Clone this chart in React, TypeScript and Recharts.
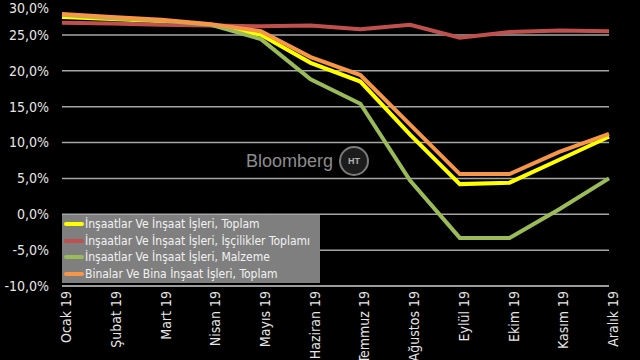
import { CartesianGrid, Line, LineChart, XAxis, YAxis } from 'recharts'

const months = [
  'Ocak 19', 'Şubat 19', 'Mart 19', 'Nisan 19', 'Mayıs 19', 'Haziran 19',
  'Temmuz 19', 'Ağustos 19', 'Eylül 19', 'Ekim 19', 'Kasım 19', 'Aralık 19',
]
const toplam = [27.5, 27.2, 26.9, 26.4, 25.0, 21.1, 18.5, 11.1, 4.2, 4.4, 7.6, 10.8]
const iscilik = [26.7, 26.6, 26.4, 26.3, 26.2, 26.3, 25.8, 26.4, 24.6, 25.4, 25.6, 25.5]
const malzeme = [27.8, 27.3, 27.0, 26.4, 24.4, 18.8, 15.4, 4.7, -3.3, -3.3, 0.7, 5.0]
const binalar = [27.9, 27.5, 27.1, 26.5, 25.5, 21.9, 19.4, 12.5, 5.6, 5.6, 8.7, 11.2]
const yTicks = [-10, -5, 0, 5, 10, 15, 20, 25, 30]

const seriesNames = [
  'İnşaatlar Ve İnşaat İşleri, Toplam',
  'İnşaatlar Ve İnşaat İşleri, İşçilikler Toplamı',
  'İnşaatlar Ve İnşaat İşleri, Malzeme',
  'Binalar Ve Bina İnşaat İşleri, Toplam',
]
const colors = ['#ffff00', '#c0504d', '#9bbb59', '#f79646']

const data = months.map((m, i) => ({
  month: m,
  toplam: toplam[i],
  iscilik: iscilik[i],
  malzeme: malzeme[i],
  binalar: binalar[i],
}))

const font = "'DejaVu Sans Condensed', 'DejaVu Sans', sans-serif"
const pct = (v: number) => v.toFixed(1).replace('.', ',') + '%'

function MonthTick({ x, y, payload }: any) {
  return (
    <g transform={`translate(${x + 4},${y})`}>
      <text
        transform="rotate(-90)"
        textAnchor="end"
        dy="0.36em"
        fill="#e6e6e6"
        fontSize={14}
        fontFamily={font}
      >
        {payload.value}
      </text>
    </g>
  )
}

function LegendBox() {
  return (
    <div
      style={{
        position: 'absolute',
        left: 62,
        top: 215,
        background: '#7f7f7f',
        width: 258,
        height: 68,
        paddingTop: 1,
        boxSizing: 'border-box',
        fontFamily: font,
        fontSize: 12,
        color: '#f2f2f2',
      }}
    >
      {seriesNames.map((n, i) => (
        <div key={n} style={{ display: 'flex', alignItems: 'center', height: 16.6 }}>
          <span
            style={{
              display: 'inline-block',
              width: 20,
              height: 4,
              borderRadius: 2,
              background: colors[i],
              marginLeft: 2,
              marginRight: 1,
            }}
          />
          <span style={{ whiteSpace: 'nowrap' }}>{n}</span>
        </div>
      ))}
    </div>
  )
}

export default function App() {
  return (
    <div style={{ position: 'fixed', left: 0, top: 0, width: 640, height: 360, background: '#000', overflow: 'hidden' }}>
      <LineChart width={640} height={360} data={data} margin={{ top: -1, right: 31, bottom: 0, left: 0 }}>
        <CartesianGrid vertical={false} stroke="#a6a6a6" strokeWidth={1.5} />
        <XAxis
          dataKey="month"
          interval={0}
          height={74}
          tick={<MonthTick />}
          tickLine={false}
          tickSize={0}
          tickMargin={5}
          axisLine={{ stroke: '#a6a6a6', strokeWidth: 1.5 }}
        />
        <YAxis
          domain={[-10, 30]}
          ticks={yTicks}
          width={62}
          tickFormatter={pct}
          tickLine={false}
          tickSize={0}
          tickMargin={13}
          axisLine={false}
          tick={{ fill: '#e6e6e6', fontSize: 14, fontFamily: font }}
        />
        <Line dataKey="toplam" name={seriesNames[0]} stroke={colors[0]} strokeWidth={4} dot={false} isAnimationActive={false} />
        <Line dataKey="iscilik" name={seriesNames[1]} stroke={colors[1]} strokeWidth={4} dot={false} isAnimationActive={false} />
        <Line dataKey="malzeme" name={seriesNames[2]} stroke={colors[2]} strokeWidth={4} dot={false} isAnimationActive={false} />
        <Line dataKey="binalar" name={seriesNames[3]} stroke={colors[3]} strokeWidth={4} dot={false} isAnimationActive={false} />
      </LineChart>
      <LegendBox />
      <div
        style={{
          position: 'absolute',
          left: 246,
          top: 146,
          display: 'flex',
          alignItems: 'center',
          gap: 6,
          color: '#8c8c8c',
          fontFamily: "'Liberation Sans', Arial, sans-serif",
          fontSize: 18,
        }}
      >
        <span>Bloomberg</span>
        <span
          style={{
            width: 26,
            height: 26,
            borderRadius: '50%',
            border: '2px solid #7a7a7a',
            background: '#1c1c1c',
            color: '#b0b0b0',
            fontSize: 9,
            fontWeight: 'bold',
            display: 'flex',
            alignItems: 'center',
            justifyContent: 'center',
          }}
        >
          HT
        </span>
      </div>
    </div>
  )
}
